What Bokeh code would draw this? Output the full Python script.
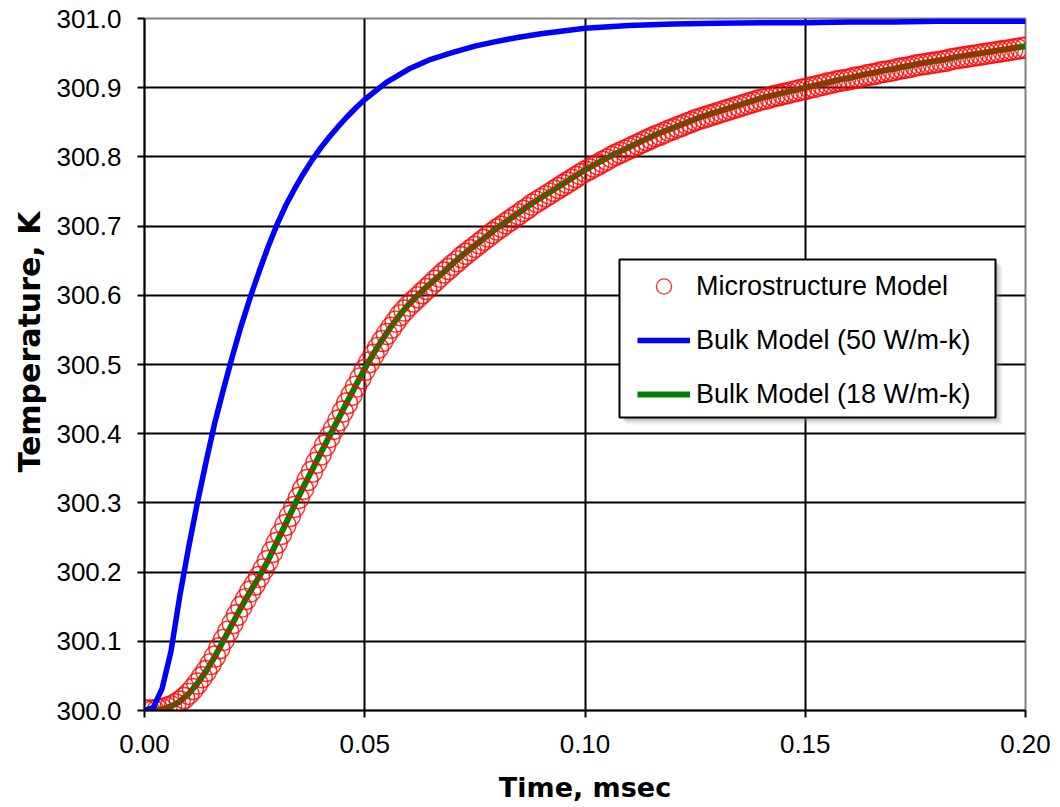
import numpy as np
from bokeh.plotting import figure
from bokeh.models import (FixedTicker, PrintfTickFormatter, Legend, LegendItem,
                          BoxAnnotation, Range1d, Title)
from bokeh.embed import file_html
from bokeh.resources import INLINE

# ---------------- data ----------------
# Microstructure model: sampled every 0.001 msec from 0.000 to 0.200
micro_time = np.linspace(0.0, 0.2, 201)
micro_temp = [
    300.000, 300.000, 300.000, 300.001, 300.002, 300.004, 300.006, 300.009, 300.013, 300.018,
    300.024, 300.031, 300.039, 300.048, 300.057, 300.067, 300.078, 300.090, 300.102, 300.114,
    300.126, 300.138, 300.150, 300.161, 300.172, 300.182, 300.193, 300.204, 300.216, 300.229,
    300.242, 300.255, 300.268, 300.281, 300.294, 300.307, 300.320, 300.333, 300.345, 300.358,
    300.370, 300.383, 300.395, 300.407, 300.419, 300.432, 300.444, 300.456, 300.468, 300.480,
    300.492, 300.503, 300.514, 300.524, 300.534, 300.544, 300.553, 300.562, 300.571, 300.578,
    300.585, 300.591, 300.597, 300.603, 300.609, 300.615, 300.621, 300.627, 300.633, 300.638,
    300.644, 300.649, 300.655, 300.660, 300.665, 300.670, 300.675, 300.680, 300.685, 300.690,
    300.695, 300.699, 300.704, 300.708, 300.713, 300.717, 300.722, 300.726, 300.731, 300.735,
    300.739, 300.743, 300.747, 300.751, 300.755, 300.759, 300.763, 300.767, 300.771, 300.775,
    300.779, 300.782, 300.786, 300.789, 300.793, 300.796, 300.800, 300.803, 300.806, 300.809,
    300.812, 300.815, 300.818, 300.821, 300.824, 300.827, 300.830, 300.832, 300.835, 300.838,
    300.840, 300.843, 300.845, 300.848, 300.850, 300.853, 300.855, 300.857, 300.859, 300.861,
    300.863, 300.865, 300.867, 300.869, 300.871, 300.873, 300.875, 300.877, 300.879, 300.881,
    300.883, 300.884, 300.886, 300.888, 300.889, 300.891, 300.892, 300.894, 300.895, 300.897,
    300.898, 300.900, 300.901, 300.903, 300.904, 300.906, 300.907, 300.909, 300.910, 300.911,
    300.912, 300.914, 300.915, 300.916, 300.918, 300.919, 300.920, 300.922, 300.923, 300.924,
    300.925, 300.927, 300.928, 300.929, 300.930, 300.932, 300.933, 300.934, 300.935, 300.936,
    300.937, 300.938, 300.939, 300.941, 300.942, 300.943, 300.944, 300.945, 300.946, 300.947,
    300.948, 300.949, 300.950, 300.951, 300.952, 300.953, 300.954, 300.955, 300.956, 300.957,
    300.958,
]

# Bulk model, k = 50 W/m-k
bulk50_time = [0.000, 0.002, 0.004, 0.006, 0.008, 0.010, 0.012, 0.014, 0.016, 0.018,
               0.020, 0.022, 0.024, 0.026, 0.028, 0.030, 0.032, 0.034, 0.036, 0.038,
               0.040, 0.042, 0.044, 0.046, 0.048, 0.050, 0.055, 0.060, 0.065, 0.070,
               0.075, 0.080, 0.085, 0.090, 0.095, 0.100, 0.110, 0.120, 0.130, 0.140,
               0.150, 0.160, 0.170, 0.180, 0.190, 0.200]
bulk50_temp = [300.000, 300.004, 300.032, 300.085, 300.165, 300.235, 300.300, 300.360, 300.417, 300.466,
               300.513, 300.557, 300.597, 300.634, 300.669, 300.701, 300.729, 300.753, 300.775, 300.795,
               300.813, 300.829, 300.844, 300.858, 300.871, 300.883, 300.908, 300.927, 300.941, 300.951,
               300.960, 300.967, 300.973, 300.978, 300.982, 300.986, 300.990, 300.992, 300.993, 300.994,
               300.994, 300.995, 300.995, 300.996, 300.996, 300.996]

# Bulk model, k = 18 W/m-k (sampled every 0.002 msec)
bulk18_time = np.linspace(0.0, 0.2, 101)
bulk18_temp = [
    300.000, 300.000, 300.002, 300.006, 300.013, 300.024, 300.039, 300.057, 300.078, 300.102,
    300.126, 300.150, 300.172, 300.193, 300.216, 300.243, 300.269, 300.296, 300.322, 300.347,
    300.372, 300.397, 300.421, 300.446, 300.470, 300.494, 300.516, 300.536, 300.555, 300.572,
    300.587, 300.600, 300.612, 300.623, 300.634, 300.646, 300.657, 300.667, 300.677, 300.687,
    300.697, 300.706, 300.715, 300.724, 300.733, 300.741, 300.749, 300.757, 300.765, 300.773,
    300.781, 300.788, 300.795, 300.802, 300.808, 300.814, 300.820, 300.826, 300.832, 300.837,
    300.842, 300.847, 300.852, 300.857, 300.861, 300.865, 300.869, 300.873, 300.877, 300.881,
    300.885, 300.888, 300.891, 300.894, 300.897, 300.900, 300.903, 300.906, 300.909, 300.912,
    300.914, 300.917, 300.920, 300.922, 300.925, 300.927, 300.930, 300.932, 300.935, 300.937,
    300.939, 300.941, 300.944, 300.946, 300.948, 300.950, 300.952, 300.954, 300.956, 300.958,
    300.960,
]

x_ticks = [0.00, 0.05, 0.10, 0.15, 0.20]
y_ticks = [300.0, 300.1, 300.2, 300.3, 300.4, 300.5, 300.6, 300.7, 300.8, 300.9, 301.0]
x_grid = [0.05, 0.10, 0.15]
y_grid = [300.1, 300.2, 300.3, 300.4, 300.5, 300.6, 300.7, 300.8, 300.9]

labels = ["Microstructure Model", "Bulk Model (50 W/m-k)", "Bulk Model (18 W/m-k)"]
x_title = "Time, msec"
y_title = "Temperature, K"

FONT = "Liberation Sans"
TITLE_FONT = "DejaVu Sans"

FRAME_W, FRAME_H = 881, 692
LEFT, TOP = 144, 18
W, H = 1056, 806

# ---------------- figure ----------------
p = figure(width=W, height=H,
           x_range=Range1d(0.0, 0.2), y_range=Range1d(300.0, 301.0),
           output_backend="svg", toolbar_location=None,
           min_border_left=LEFT, min_border_top=TOP,
           min_border_right=W - LEFT - FRAME_W,
           min_border_bottom=H - TOP - FRAME_H,
           background_fill_color="white", border_fill_color="white")

p.outline_line_color = "#808080"
p.outline_line_width = 2

# grids
p.xgrid.ticker = FixedTicker(ticks=x_grid)
p.ygrid.ticker = FixedTicker(ticks=y_grid)
for g in (p.xgrid, p.ygrid):
    g.grid_line_color = "black"
    g.grid_line_width = 2

# axes
p.xaxis.ticker = FixedTicker(ticks=x_ticks)
p.yaxis.ticker = FixedTicker(ticks=y_ticks)
p.xaxis.formatter = PrintfTickFormatter(format="%.2f")
p.yaxis.formatter = PrintfTickFormatter(format="%.1f")
p.xaxis.axis_label = x_title
for ax in (p.xaxis, p.yaxis):
    ax.axis_line_color = "black"
    ax.axis_line_width = 2
    ax.major_tick_line_color = "black"
    ax.major_tick_line_width = 2
    ax.major_tick_in = 0
    ax.major_tick_out = 7
    ax.minor_tick_line_color = None
    ax.major_label_text_font = FONT
    ax.major_label_text_font_size = "26px"
    ax.major_label_text_color = "black"
    ax.axis_label_text_font = TITLE_FONT
    ax.axis_label_text_font_size = "27px"
    ax.axis_label_text_font_style = "bold"
    ax.axis_label_text_color = "black"
p.yaxis.major_label_standoff = 16
p.xaxis.major_label_standoff = 17
p.xaxis.axis_label_standoff = 16

# y-axis title placed as a side title so that it can sit a little above centre
yt = Title(text=y_title, align="left", offset=238, text_font=TITLE_FONT,
           text_font_size="30px", text_font_style="bold", text_color="black",
           standoff=14)
p.add_layout(yt, "left")

# series
r_green = p.line(bulk18_time, bulk18_temp, line_color="#008000", line_width=6)
r_micro = p.scatter(micro_time, micro_temp, marker="circle", size=21,
                    fill_color=None, line_color="#FF0000", line_alpha=0.8, line_width=1.4)
r_blue = p.line(bulk50_time, bulk50_temp, line_color="#0000FF", line_width=5.5)

# legend box + soft shadow (offset down-right)
sx = 0.2 / FRAME_W
sy = 1.0 / FRAME_H
lg_left, lg_right = 0.10783, 0.19319
lg_top, lg_bottom = 300.6517, 300.4234
for off, a in ((7, 0.10), (5, 0.18), (3, 0.25)):
    p.add_layout(BoxAnnotation(left=lg_left + off * sx, right=lg_right + off * sx,
                               top=lg_top - off * sy, bottom=lg_bottom - off * sy,
                               fill_color="gray", fill_alpha=a, line_color=None))
p.add_layout(BoxAnnotation(left=lg_left, right=lg_right, top=lg_top, bottom=lg_bottom,
                           fill_color="white", fill_alpha=1.0,
                           line_color="black", line_width=2, line_alpha=1.0))

legend = Legend(items=[LegendItem(label=labels[0], renderers=[r_micro]),
                       LegendItem(label=labels[1], renderers=[r_blue]),
                       LegendItem(label=labels[2], renderers=[r_green])],
                location=(493, 297), orientation="vertical")
legend.label_text_font = FONT
legend.label_text_font_size = "27px"
legend.label_text_color = "black"
legend.glyph_width = 53
legend.glyph_height = 38
legend.label_height = 38
legend.label_standoff = 6
legend.spacing = 16
legend.padding = 0
legend.margin = 0
legend.border_line_color = None
legend.background_fill_alpha = 0.0
p.add_layout(legend, "center")

open("out.html", "w").write(file_html(p, INLINE))
